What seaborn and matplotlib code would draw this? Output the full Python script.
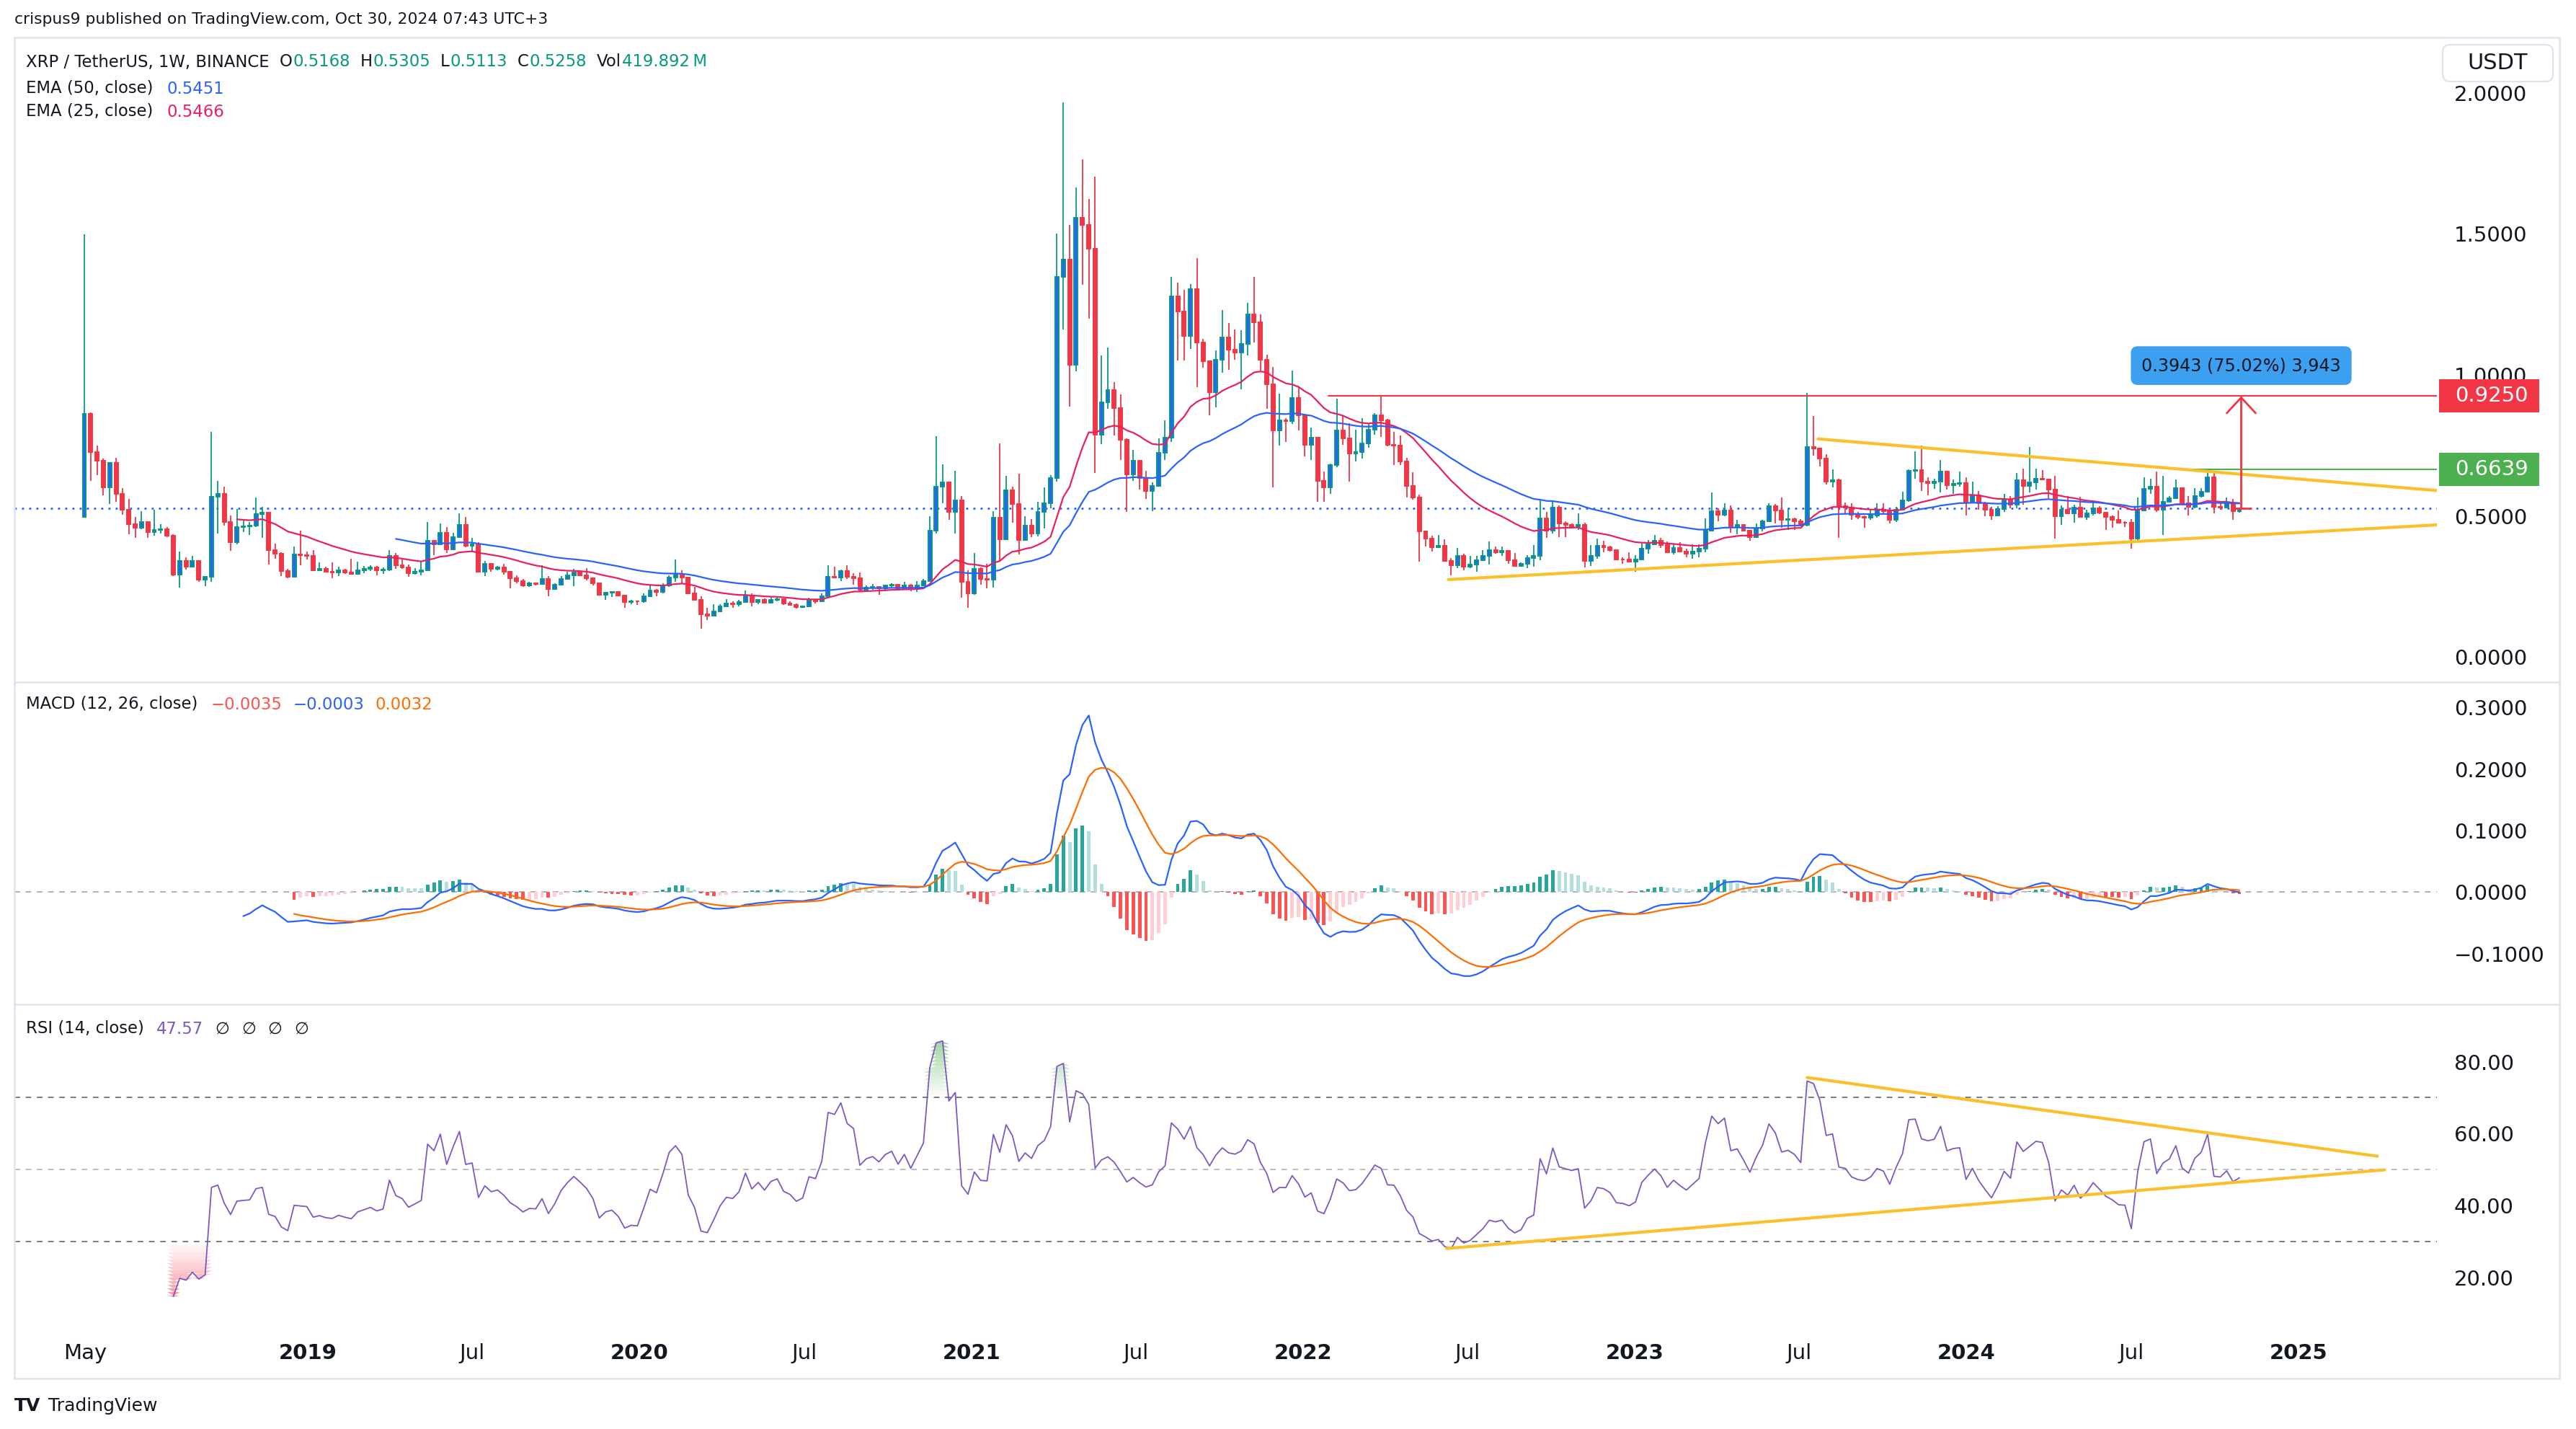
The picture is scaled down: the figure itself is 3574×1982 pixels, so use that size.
import numpy as np
import pandas as pd
import matplotlib
matplotlib.use("Agg")
import matplotlib.pyplot as plt
import matplotlib.transforms as mtransforms
from matplotlib.patches import Rectangle, FancyBboxPatch
from matplotlib.ticker import FixedLocator, FuncFormatter
import seaborn as sns

# ---------------------------------------------------------------- data
START_DATE = "2018-04-30"          # first weekly candle (Monday)
FIRST_OPEN = 0.497

CLOSE = [
    0.861, 0.726, 0.696, 0.601, 0.688, 0.579, 0.523, 0.471, 0.458, 0.478,
    0.442, 0.449, 0.453, 0.429, 0.292, 0.339, 0.319, 0.339, 0.273, 0.283,
    0.569, 0.579, 0.479, 0.407, 0.461, 0.464, 0.466, 0.507, 0.512, 0.378,
    0.366, 0.305, 0.283, 0.363, 0.360, 0.357, 0.308, 0.312, 0.303, 0.300,
    0.307, 0.300, 0.295, 0.308, 0.312, 0.316, 0.307, 0.310, 0.358, 0.324,
    0.317, 0.297, 0.302, 0.307, 0.412, 0.400, 0.440, 0.381, 0.424, 0.468,
    0.394, 0.398, 0.301, 0.330, 0.312, 0.316, 0.301, 0.280, 0.269, 0.254,
    0.260, 0.259, 0.275, 0.240, 0.255, 0.276, 0.289, 0.299, 0.289, 0.278,
    0.260, 0.220, 0.228, 0.230, 0.218, 0.194, 0.197, 0.196, 0.214, 0.235,
    0.230, 0.252, 0.281, 0.291, 0.281, 0.224, 0.201, 0.150, 0.146, 0.161,
    0.178, 0.189, 0.187, 0.195, 0.218, 0.195, 0.203, 0.192, 0.202, 0.205,
    0.189, 0.185, 0.176, 0.179, 0.199, 0.197, 0.214, 0.284, 0.282, 0.304,
    0.284, 0.279, 0.237, 0.246, 0.249, 0.243, 0.252, 0.256, 0.243, 0.254,
    0.240, 0.254, 0.269, 0.447, 0.603, 0.619, 0.513, 0.555, 0.265, 0.224,
    0.313, 0.275, 0.273, 0.494, 0.418, 0.591, 0.542, 0.415, 0.466, 0.438,
    0.514, 0.545, 0.635, 1.347, 1.408, 1.035, 1.557, 1.532, 1.448, 0.788,
    0.902, 0.946, 0.882, 0.771, 0.647, 0.695, 0.635, 0.587, 0.606, 0.723,
    0.778, 1.280, 1.226, 1.138, 1.304, 1.115, 1.048, 0.939, 1.054, 1.133,
    1.090, 1.079, 1.110, 1.216, 1.187, 1.054, 0.967, 0.803, 0.839, 0.837,
    0.918, 0.856, 0.752, 0.777, 0.625, 0.602, 0.681, 0.803, 0.775, 0.721,
    0.726, 0.758, 0.805, 0.856, 0.839, 0.752, 0.750, 0.694, 0.606, 0.564,
    0.446, 0.419, 0.388, 0.393, 0.341, 0.324, 0.357, 0.320, 0.327, 0.342,
    0.357, 0.378, 0.371, 0.375, 0.342, 0.323, 0.329, 0.351, 0.357, 0.491,
    0.448, 0.530, 0.474, 0.468, 0.463, 0.468, 0.340, 0.359, 0.394, 0.390,
    0.378, 0.346, 0.344, 0.337, 0.344, 0.383, 0.398, 0.411, 0.397, 0.372,
    0.385, 0.374, 0.365, 0.374, 0.383, 0.448, 0.516, 0.504, 0.519, 0.464,
    0.468, 0.448, 0.425, 0.455, 0.481, 0.534, 0.519, 0.485, 0.489, 0.482,
    0.468, 0.743, 0.738, 0.704, 0.621, 0.627, 0.534, 0.530, 0.504, 0.496,
    0.493, 0.502, 0.522, 0.516, 0.485, 0.522, 0.555, 0.660, 0.662, 0.621,
    0.617, 0.621, 0.658, 0.609, 0.615, 0.617, 0.549, 0.574, 0.545, 0.523,
    0.502, 0.525, 0.555, 0.540, 0.626, 0.606, 0.619, 0.632, 0.630, 0.593,
    0.500, 0.523, 0.509, 0.529, 0.496, 0.508, 0.526, 0.511, 0.495, 0.487,
    0.476, 0.475, 0.419, 0.519, 0.596, 0.604, 0.523, 0.551, 0.562, 0.598,
    0.545, 0.532, 0.570, 0.586, 0.638, 0.532, 0.530, 0.546, 0.5168, 0.5258,
]

HIGH = [
    1.499, 0.866, 0.750, 0.703, 0.691, 0.706, 0.598, 0.559, 0.497, 0.517,
    0.481, 0.523, 0.470, 0.461, 0.435, 0.373, 0.352, 0.357, 0.342, 0.287,
    0.797, 0.623, 0.603, 0.502, 0.525, 0.486, 0.478, 0.566, 0.533, 0.515,
    0.401, 0.370, 0.312, 0.391, 0.447, 0.373, 0.378, 0.334, 0.319, 0.334,
    0.319, 0.312, 0.347, 0.337, 0.321, 0.324, 0.321, 0.317, 0.378, 0.368,
    0.346, 0.327, 0.314, 0.337, 0.478, 0.412, 0.474, 0.461, 0.439, 0.510,
    0.496, 0.423, 0.406, 0.340, 0.332, 0.321, 0.330, 0.305, 0.289, 0.277,
    0.266, 0.263, 0.325, 0.286, 0.260, 0.286, 0.301, 0.312, 0.308, 0.314,
    0.280, 0.262, 0.231, 0.231, 0.230, 0.218, 0.201, 0.197, 0.225, 0.254,
    0.240, 0.260, 0.289, 0.346, 0.307, 0.284, 0.247, 0.214, 0.173, 0.186,
    0.186, 0.205, 0.196, 0.203, 0.235, 0.225, 0.205, 0.206, 0.212, 0.214,
    0.205, 0.196, 0.189, 0.179, 0.209, 0.205, 0.225, 0.324, 0.320, 0.309,
    0.326, 0.297, 0.300, 0.254, 0.259, 0.250, 0.254, 0.262, 0.259, 0.265,
    0.259, 0.269, 0.275, 0.498, 0.782, 0.682, 0.621, 0.659, 0.570, 0.307,
    0.368, 0.316, 0.329, 0.517, 0.756, 0.642, 0.603, 0.650, 0.498, 0.488,
    0.551, 0.600, 0.644, 1.500, 1.966, 1.532, 1.666, 1.764, 1.624, 1.704,
    1.070, 1.098, 0.975, 0.930, 0.775, 0.733, 0.698, 0.659, 0.619, 0.775,
    0.839, 1.348, 1.327, 1.302, 1.322, 1.414, 1.128, 1.048, 1.088, 1.229,
    1.184, 1.161, 1.159, 1.257, 1.349, 1.216, 1.072, 1.028, 0.934, 0.847,
    1.016, 0.956, 0.860, 0.813, 0.781, 0.657, 0.685, 0.915, 0.856, 0.828,
    0.805, 0.847, 0.828, 0.864, 0.928, 0.843, 0.798, 0.786, 0.707, 0.655,
    0.576, 0.448, 0.429, 0.431, 0.418, 0.350, 0.387, 0.365, 0.357, 0.359,
    0.378, 0.408, 0.391, 0.391, 0.374, 0.368, 0.335, 0.361, 0.397, 0.556,
    0.515, 0.549, 0.536, 0.482, 0.472, 0.508, 0.476, 0.397, 0.419, 0.412,
    0.395, 0.381, 0.353, 0.370, 0.361, 0.406, 0.414, 0.432, 0.421, 0.408,
    0.402, 0.406, 0.383, 0.400, 0.398, 0.492, 0.583, 0.526, 0.545, 0.538,
    0.487, 0.469, 0.451, 0.472, 0.487, 0.546, 0.543, 0.566, 0.526, 0.493,
    0.489, 0.935, 0.854, 0.738, 0.718, 0.664, 0.632, 0.547, 0.545, 0.513,
    0.502, 0.523, 0.546, 0.545, 0.522, 0.532, 0.585, 0.664, 0.730, 0.749,
    0.636, 0.632, 0.698, 0.661, 0.630, 0.657, 0.638, 0.621, 0.589, 0.549,
    0.532, 0.534, 0.579, 0.570, 0.651, 0.668, 0.743, 0.668, 0.662, 0.632,
    0.641, 0.536, 0.570, 0.540, 0.568, 0.523, 0.553, 0.534, 0.515, 0.502,
    0.519, 0.481, 0.489, 0.566, 0.637, 0.632, 0.657, 0.643, 0.570, 0.628,
    0.600, 0.570, 0.598, 0.598, 0.662, 0.651, 0.549, 0.564, 0.560, 0.5305,
]

LOW = [
    0.497, 0.625, 0.644, 0.574, 0.543, 0.549, 0.503, 0.435, 0.422, 0.452,
    0.422, 0.429, 0.437, 0.424, 0.287, 0.246, 0.310, 0.319, 0.266, 0.251,
    0.266, 0.437, 0.466, 0.376, 0.398, 0.442, 0.432, 0.461, 0.422, 0.327,
    0.347, 0.287, 0.280, 0.283, 0.324, 0.344, 0.305, 0.307, 0.300, 0.280,
    0.287, 0.295, 0.292, 0.293, 0.297, 0.305, 0.290, 0.295, 0.305, 0.312,
    0.312, 0.283, 0.292, 0.290, 0.307, 0.360, 0.398, 0.368, 0.378, 0.421,
    0.390, 0.372, 0.299, 0.286, 0.301, 0.306, 0.291, 0.244, 0.261, 0.248,
    0.248, 0.252, 0.258, 0.214, 0.237, 0.254, 0.276, 0.250, 0.286, 0.270,
    0.254, 0.218, 0.201, 0.212, 0.216, 0.175, 0.186, 0.185, 0.193, 0.212,
    0.214, 0.226, 0.248, 0.267, 0.261, 0.222, 0.199, 0.101, 0.131, 0.143,
    0.158, 0.178, 0.175, 0.178, 0.192, 0.178, 0.186, 0.190, 0.190, 0.196,
    0.185, 0.184, 0.171, 0.173, 0.176, 0.188, 0.195, 0.212, 0.279, 0.269,
    0.275, 0.256, 0.233, 0.233, 0.237, 0.220, 0.233, 0.243, 0.240, 0.241,
    0.233, 0.231, 0.250, 0.269, 0.437, 0.545, 0.485, 0.437, 0.211, 0.173,
    0.220, 0.256, 0.243, 0.246, 0.341, 0.415, 0.475, 0.364, 0.415, 0.424,
    0.428, 0.456, 0.526, 0.621, 1.162, 0.888, 1.013, 1.319, 1.200, 0.653,
    0.755, 0.880, 0.784, 0.699, 0.513, 0.625, 0.593, 0.559, 0.517, 0.603,
    0.698, 0.761, 1.051, 1.051, 1.092, 0.956, 1.026, 0.858, 0.886, 1.008,
    1.018, 1.054, 0.948, 1.069, 1.116, 1.016, 0.881, 0.600, 0.749, 0.762,
    0.826, 0.803, 0.711, 0.698, 0.550, 0.550, 0.579, 0.672, 0.752, 0.621,
    0.694, 0.704, 0.741, 0.788, 0.779, 0.747, 0.681, 0.681, 0.566, 0.557,
    0.337, 0.391, 0.374, 0.387, 0.340, 0.289, 0.314, 0.306, 0.314, 0.303,
    0.342, 0.327, 0.365, 0.359, 0.331, 0.320, 0.320, 0.314, 0.320, 0.342,
    0.421, 0.438, 0.425, 0.425, 0.455, 0.451, 0.317, 0.321, 0.348, 0.372,
    0.374, 0.344, 0.331, 0.336, 0.302, 0.344, 0.365, 0.400, 0.385, 0.370,
    0.363, 0.370, 0.354, 0.347, 0.354, 0.370, 0.445, 0.482, 0.498, 0.441,
    0.434, 0.446, 0.411, 0.421, 0.445, 0.479, 0.472, 0.457, 0.451, 0.451,
    0.463, 0.463, 0.713, 0.674, 0.610, 0.600, 0.423, 0.506, 0.487, 0.489,
    0.459, 0.487, 0.493, 0.506, 0.472, 0.478, 0.519, 0.549, 0.632, 0.587,
    0.573, 0.596, 0.583, 0.593, 0.577, 0.604, 0.502, 0.545, 0.522, 0.498,
    0.485, 0.498, 0.513, 0.528, 0.528, 0.539, 0.583, 0.594, 0.626, 0.562,
    0.419, 0.468, 0.506, 0.476, 0.493, 0.487, 0.502, 0.506, 0.451, 0.459,
    0.472, 0.461, 0.383, 0.404, 0.516, 0.579, 0.515, 0.431, 0.549, 0.559,
    0.542, 0.502, 0.528, 0.566, 0.583, 0.508, 0.522, 0.530, 0.487, 0.5113,
]

PRICE_TICKS = [0.0, 0.5, 1.0, 1.5, 2.0]
MACD_TICKS = [-0.1, 0.0, 0.1, 0.2, 0.3]
RSI_TICKS = [20, 40, 60, 80]
TIME_TICK_DATES = ["2018-05-01", "2019-01-01", "2019-07-01", "2020-01-01", "2020-07-01",
                   "2021-01-01", "2021-07-01", "2022-01-01", "2022-07-01", "2023-01-01",
                   "2023-07-01", "2024-01-01", "2024-07-01", "2025-01-01"]
TIME_TICK_LABELS = ["May", "2019", "Jul", "2020", "Jul", "2021", "Jul", "2022", "Jul",
                    "2023", "Jul", "2024", "Jul", "2025"]

LAST_PRICE = 0.5258
RESIST_LEVEL, RESIST_FROM = 0.9250, "2022-01-29"
BREAK_LEVEL, BREAK_FROM = 0.6639, "2024-08-31"
MEASURE_DATE, MEASURE_TO = "2024-10-30", 0.9250
MEASURE_TEXT = "0.3943 (75.02%) 3,943"
MEASURE_LABEL_PRICE = 1.033
PRICE_UPPER_DATES, PRICE_UPPER_VALUES = ["2023-07-22", "2025-06-02"], [0.773, 0.590]
PRICE_LOWER_DATES, PRICE_LOWER_VALUES = ["2022-06-10", "2025-06-02"], [0.274, 0.468]
RSI_UPPER_DATES, RSI_UPPER_VALUES = ["2023-07-10", "2025-03-29"], [75.6, 53.7]
RSI_LOWER_DATES, RSI_LOWER_VALUES = ["2022-06-08", "2025-04-06"], [28.0, 49.9]

PUBLISHED = "crispus9 published on TradingView.com, Oct 30, 2024 07:43 UTC+3"
SYMBOL = "XRP / TetherUS, 1W, BINANCE"
OHLCV = [("O", "0.5168"), ("H", "0.5305"), ("L", "0.5113"), ("C", "0.5258"), ("Vol", "419.892\u202fM")]
EMA50_LAST, EMA25_LAST = "0.5451", "0.5466"
MACD_LAST = ["\u22120.0035", "\u22120.0003", "0.0032"]
RSI_LAST = "47.57"

# ---------------------------------------------------------------- style
sns.set_theme(style="white")
plt.rcParams["font.family"] = ["DejaVu Sans"]
plt.rcParams["axes.unicode_minus"] = True

DARK = "#131722"
UP_BODY, UP_EDGE, DOWN = "#2962FF", "#089981", "#F23645"
BLUE, PINK, ORANGE, PURPLE = "#2962FF", "#E91E63", "#FF6D00", "#7E57C2"
YELLOW, GREEN_LVL, FRAME = "#FBBF2A", "#4CAF50", "#E0E3EB"

W, H = 3574, 1982
fig = plt.figure(figsize=(W / 200, H / 200), dpi=200, facecolor="white")


def rect(x0, y0, x1, y1):
    return [x0 / W, 1 - y1 / H, (x1 - x0) / W, (y1 - y0) / H]


PL, PR = 20, 3381
ax_p = fig.add_axes(rect(PL, 52, PR, 946))
ax_m = fig.add_axes(rect(PL, 946, PR, 1393), sharex=ax_p)
ax_r = fig.add_axes(rect(PL, 1393, PR, 1852), sharex=ax_p)
for ax in (ax_p, ax_m, ax_r):
    ax.set_facecolor("none")
    for s in ax.spines.values():
        s.set_visible(False)

# ---------------------------------------------------------------- series
C = np.array(CLOSE, dtype=float)
Hh = np.array(HIGH, dtype=float)
Ll = np.array(LOW, dtype=float)
n = len(C)
O = np.r_[FIRST_OPEN, C[:-1]]
Hh = np.maximum(Hh, np.maximum(O, C))
Ll = np.minimum(Ll, np.minimum(O, C))
idx = np.arange(n)
start = pd.Timestamp(START_DATE)


def wk(d):
    return (pd.Timestamp(d) - start) / pd.Timedelta(days=7)


def ema(x, p):
    out = np.full(len(x), np.nan)
    ok = np.where(~np.isnan(x))[0]
    s = ok[0]
    a = 2.0 / (p + 1)
    out[s + p - 1] = np.mean(x[s:s + p])
    for i in range(s + p, len(x)):
        out[i] = a * x[i] + (1 - a) * out[i - 1]
    return out


def rma(x, p, s):
    out = np.full(len(x), np.nan)
    out[s + p - 1] = np.mean(x[s:s + p])
    for i in range(s + p, len(x)):
        out[i] = (x[i] + (p - 1) * out[i - 1]) / p
    return out


ema50 = ema(C, 50)
ema25 = ema(C, 25)
macd = ema(C, 12) - ema(C, 26)
signal = ema(macd, 9)
hist = macd - signal
d = np.r_[np.nan, np.diff(C)]
gain = np.where(np.isnan(d), np.nan, np.maximum(d, 0))
loss = np.where(np.isnan(d), np.nan, np.maximum(-d, 0))
ag, al = rma(gain, 14, 1), rma(loss, 14, 1)
rsi = 100 - 100 / (1 + ag / al)

df = pd.DataFrame({"i": idx, "ema50": ema50, "ema25": ema25, "macd": macd,
                   "signal": signal, "rsi": rsi})

# ---------------------------------------------------------------- price pane
XL, XR = (PL - 117) / 8.82, (PR - 117) / 8.82
up = C >= O
ax_p.axhline(LAST_PRICE, color=BLUE, lw=1.0, ls=(0, (1, 2.6)), zorder=1)
ax_p.vlines(idx, Ll, Hh, colors=np.where(up, UP_EDGE, DOWN), lw=0.65, zorder=2)
ax_p.bar(idx, np.abs(C - O), bottom=np.minimum(O, C), width=0.56,
         color=np.where(up, UP_BODY, DOWN), edgecolor=np.where(up, UP_EDGE, DOWN),
         linewidth=0.7, zorder=3)
sns.lineplot(data=df, x="i", y="ema25", ax=ax_p, color=PINK, lw=0.8, estimator=None,
             errorbar=None, legend=False, zorder=4)
sns.lineplot(data=df, x="i", y="ema50", ax=ax_p, color=BLUE, lw=0.8, estimator=None,
             errorbar=None, legend=False, zorder=4)

ax_p.set_xlim(XL, XR)
ax_p.set_ylim(-0.0895, 2.1969)
span = XR - XL
ax_p.axhline(RESIST_LEVEL, xmin=(wk(RESIST_FROM) - XL) / span, xmax=1, color=DOWN, lw=0.75, zorder=4)
ax_p.axhline(BREAK_LEVEL, xmin=(wk(BREAK_FROM) - XL) / span, xmax=1, color=GREEN_LVL, lw=0.75, zorder=4)
ax_p.plot([wk(t) for t in PRICE_UPPER_DATES], PRICE_UPPER_VALUES, color=YELLOW, lw=1.5,
          solid_capstyle="round", zorder=5)
ax_p.plot([wk(t) for t in PRICE_LOWER_DATES], PRICE_LOWER_VALUES, color=YELLOW, lw=1.5,
          solid_capstyle="round", zorder=5)

xa = wk(MEASURE_DATE)
ax_p.annotate("", xy=(xa, MEASURE_TO), xytext=(xa, LAST_PRICE),
              arrowprops=dict(arrowstyle="->,head_length=0.39,head_width=0.36", color=DOWN,
                              lw=1.0, shrinkA=0, shrinkB=0, mutation_scale=20), zorder=6)
ax_p.hlines(LAST_PRICE, xa - 1.0, xa + 1.7, color=DOWN, lw=1.0, zorder=6)
ax_p.text(xa, MEASURE_LABEL_PRICE, MEASURE_TEXT, ha="center", va="center", fontsize=8.6,
          color=DARK, zorder=7,
          bbox=dict(boxstyle="round,pad=0.62,rounding_size=0.4", fc="#3D9FF0", ec="none"))

blend = mtransforms.blended_transform_factory(ax_p.transAxes, ax_p.transData)
for lvl, col in ((RESIST_LEVEL, DOWN), (BREAK_LEVEL, GREEN_LVL)):
    ax_p.add_patch(Rectangle((1.0009, lvl - 0.0588), 0.0414, 0.1176, transform=blend,
                             fc=col, ec="none", clip_on=False, zorder=8))
    ax_p.text(1.0074, lvl, f"{lvl:.4f}", transform=blend, ha="left", va="center",
              fontsize=10.5, color="white", clip_on=False, zorder=9)

# ---------------------------------------------------------------- MACD pane
ok = ~np.isnan(hist)
prev = np.r_[np.nan, hist[:-1]]
hcol = np.where(hist >= 0, np.where(prev < hist, "#26A69A", "#B2DFDB"),
                np.where(prev < hist, "#FFCDD2", "#FF5252"))
ax_m.axhline(0, color="#787B86", lw=0.7, ls=(0, (4, 4)), alpha=0.6, zorder=1)
ax_m.bar(idx[ok], hist[ok], width=0.55, color=hcol[ok], linewidth=0, zorder=2)
sns.lineplot(data=df, x="i", y="macd", ax=ax_m, color=BLUE, lw=0.8, estimator=None,
             errorbar=None, legend=False, zorder=3)
sns.lineplot(data=df, x="i", y="signal", ax=ax_m, color=ORANGE, lw=0.8, estimator=None,
             errorbar=None, legend=False, zorder=3)
ax_m.set_ylim(-0.182, 0.3411)

# ---------------------------------------------------------------- RSI pane
for lv, a in ((70, 1.0), (50, 0.5), (30, 1.0)):
    ax_r.axhline(lv, color="#787B86", lw=0.7, ls=(0, (4, 4)), alpha=a, zorder=1)
rv = np.nan_to_num(rsi, nan=50.0)
for lo in np.arange(70, 100, 1.0):
    ax_r.fill_between(idx, lo, np.clip(rv, lo, lo + 1), color="#4CAF50",
                      alpha=min(1, (lo + 0.5 - 70) / 30), lw=0, zorder=2)
for hi in np.arange(30, 0, -1.0):
    ax_r.fill_between(idx, np.clip(rv, hi - 1, hi), hi, color="#F23645",
                      alpha=min(1, (30 - (hi - 0.5)) / 30), lw=0, zorder=2)
sns.lineplot(data=df, x="i", y="rsi", ax=ax_r, color=PURPLE, lw=0.65, estimator=None,
             errorbar=None, legend=False, zorder=3)
ax_r.plot([wk(t) for t in RSI_UPPER_DATES], RSI_UPPER_VALUES, color=YELLOW, lw=1.5,
          solid_capstyle="round", zorder=4)
ax_r.plot([wk(t) for t in RSI_LOWER_DATES], RSI_LOWER_VALUES, color=YELLOW, lw=1.5,
          solid_capstyle="round", zorder=4)
ax_r.set_ylim(3.85, 95.97)

# ---------------------------------------------------------------- axes / ticks
ax_p.yaxis.set_major_locator(FixedLocator(PRICE_TICKS))
ax_p.yaxis.set_major_formatter(FuncFormatter(lambda v, p: f"{v:.4f}"))
ax_m.yaxis.set_major_locator(FixedLocator(MACD_TICKS))
ax_m.yaxis.set_major_formatter(FuncFormatter(lambda v, p: f"{v:.4f}".replace("-", "\u2212")))
ax_r.yaxis.set_major_locator(FixedLocator(RSI_TICKS))
ax_r.yaxis.set_major_formatter(FuncFormatter(lambda v, p: f"{v:.2f}"))
for ax in (ax_p, ax_m, ax_r):
    ax.set_xlabel("")
    ax.set_ylabel("")
    ax.grid(False)
    ax.tick_params(axis="y", length=0, pad=8.6, labelsize=10.5, labelcolor=DARK,
                   left=False, labelleft=False, right=True, labelright=True)
ax_r.set_xticks([wk(t) for t in TIME_TICK_DATES])
ax_r.set_xticklabels(TIME_TICK_LABELS)
for lab, txt in zip(ax_r.get_xticklabels(), TIME_TICK_LABELS):
    if txt.isdigit():
        lab.set_fontweight("bold")
ax_r.tick_params(axis="x", length=0, pad=4, labelsize=10.5, labelcolor=DARK)
for ax in (ax_p, ax_m):
    ax.tick_params(axis="x", bottom=False, labelbottom=False)
ax_p.set_xlim(XL, XR)

# ---------------------------------------------------------------- overlay decorations
ov = fig.add_axes([0, 0, 1, 1])
ov.set_zorder(10)
ov.patch.set_alpha(0)
ov.set_xlim(0, W)
ov.set_ylim(H, 0)
ov.axis("off")
ov.add_patch(Rectangle((20, 52), 3531, 1860, fill=False, ec=FRAME, lw=0.9))
ov.plot([20, 3551], [946, 946], color=FRAME, lw=0.9)
ov.plot([20, 3551], [1393, 1393], color=FRAME, lw=0.9)
ov.add_patch(FancyBboxPatch((3389, 62), 153, 51, boxstyle="round,pad=0,rounding_size=10",
                            fc="white", ec=FRAME, lw=0.8))
ov.text(3465, 88, "USDT", ha="center", va="center", fontsize=11, color=DARK)


def chain(x, y, parts, size=8.2, weights=None):
    t = ov.text(x, y, parts[0][0], color=parts[0][1], fontsize=size, ha="left", va="center",
                fontweight=(weights[0] if weights else "normal"))
    for k, (txt, col, gap) in enumerate(parts[1:], start=1):
        t = ov.annotate(txt, xy=(1, 0), xycoords=t, xytext=(gap, 0), textcoords="offset points",
                        color=col, fontsize=size, ha="left", va="bottom",
                        fontweight=(weights[k] if weights else "normal"))
    return t


ov.text(20, 27, PUBLISHED, fontsize=7.9, color=DARK, ha="left", va="center")
row = [(SYMBOL, DARK)]
for lab, val in OHLCV:
    row.append((lab, DARK, 5))
    row.append((val, UP_EDGE, 0.3))
chain(36, 86, row)
chain(36, 123, [("EMA (50, close)", DARK), (EMA50_LAST, BLUE, 7)])
chain(36, 155, [("EMA (25, close)", DARK), (EMA25_LAST, PINK, 7)])
chain(36, 977, [("MACD (12, 26, close)", DARK), (MACD_LAST[0], "#FF5252", 6.5),
                (MACD_LAST[1], BLUE, 5.5), (MACD_LAST[2], ORANGE, 5.5)])
chain(36, 1427, [("RSI (14, close)", DARK), (RSI_LAST, PURPLE, 6), ("\u2205", DARK, 6),
                 ("\u2205", DARK, 6), ("\u2205", DARK, 6), ("\u2205", DARK, 6)])
chain(20, 1950, [("TV", DARK), ("TradingView", DARK, 4)], size=9, weights=["bold", "normal"])

fig.savefig("out.png", dpi=200, facecolor="white")
